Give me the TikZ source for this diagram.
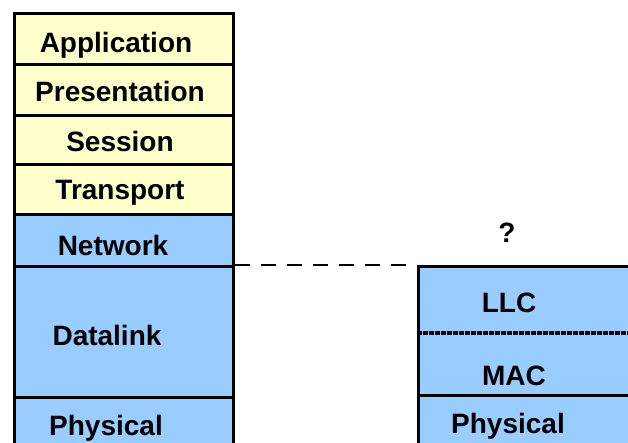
\documentclass[tikz,border=0pt]{standalone}
\usepackage{fontspec}
\setmainfont{Liberation Sans}
\definecolor{layeryellow}{HTML}{FFFFCC}
\definecolor{layerblue}{HTML}{99CCFF}
\begin{document}
\begin{tikzpicture}[x=1pt,y=-1pt,
  cell/.style={draw=black, line width=3pt, rectangle, anchor=north west,
    inner sep=0pt, minimum width=219pt},
  upper/.style={cell, fill=layeryellow},
  lower/.style={cell, fill=layerblue},
  rcell/.style={draw=black, line width=3pt, rectangle, anchor=north west,
    inner sep=0pt, minimum width=243pt, fill=layerblue},
  lbl/.style={anchor=base, inner sep=0pt,
    font=\fontsize{28}{30}\selectfont\bfseries},
  link/.style={draw=black, line width=1.6pt, dash pattern=on 15pt off 11pt},
  divider/.style={draw=black, line width=4pt, dash pattern=on 4.5pt off 1.5pt}]
\useasboundingbox (0,0) rectangle (628,443);

% seven-layer stack
\node[upper, minimum height=51pt] (app) at (13,12) {};
\node[upper, minimum height=51pt] (pres) at (13,63) {};
\node[upper, minimum height=49pt] (sess) at (13,114) {};
\node[upper, minimum height=50pt] (trans) at (13,163) {};
\node[lower, minimum height=52pt] (net) at (13,213) {};
\node[lower, minimum height=131pt] (dl) at (13,265) {};
\node[lower, minimum height=70pt] (phys) at (13,396) {};

\node[lbl] (tapp) at (116,53) {Application};
\node[lbl] (tpres) at (120,102) {Presentation};
\node[lbl] (tsess) at (120,152) {Session};
\node[lbl] (ttrans) at (120,200) {Transport};
\node[lbl] (tnet) at (113,255) {Network};
\node[lbl] (tdl) at (107,345) {Datalink};
\node[lbl] (tphys) at (106,435) {Physical};

% IEEE 802 stack
\node[rcell, minimum height=129pt] (llcmac) at (417,265) {};
\node[rcell, minimum height=70pt] (rphys) at (417,394) {};
\coordinate (divL) at (417,333);
\coordinate (divR) at (660,333);
\draw[divider] (divL) -- (divR);

\node[lbl] (tllc) at (509,312) {LLC};
\node[lbl] (tmac) at (514,385) {MAC};
\node[lbl] (trphys) at (508,433) {Physical};
\node[lbl] (tq) at (507,243) {?};

% correspondence of the network layer boundary
\draw[link] (dl.north east) -- (llcmac.north west);
\end{tikzpicture}
\end{document}
